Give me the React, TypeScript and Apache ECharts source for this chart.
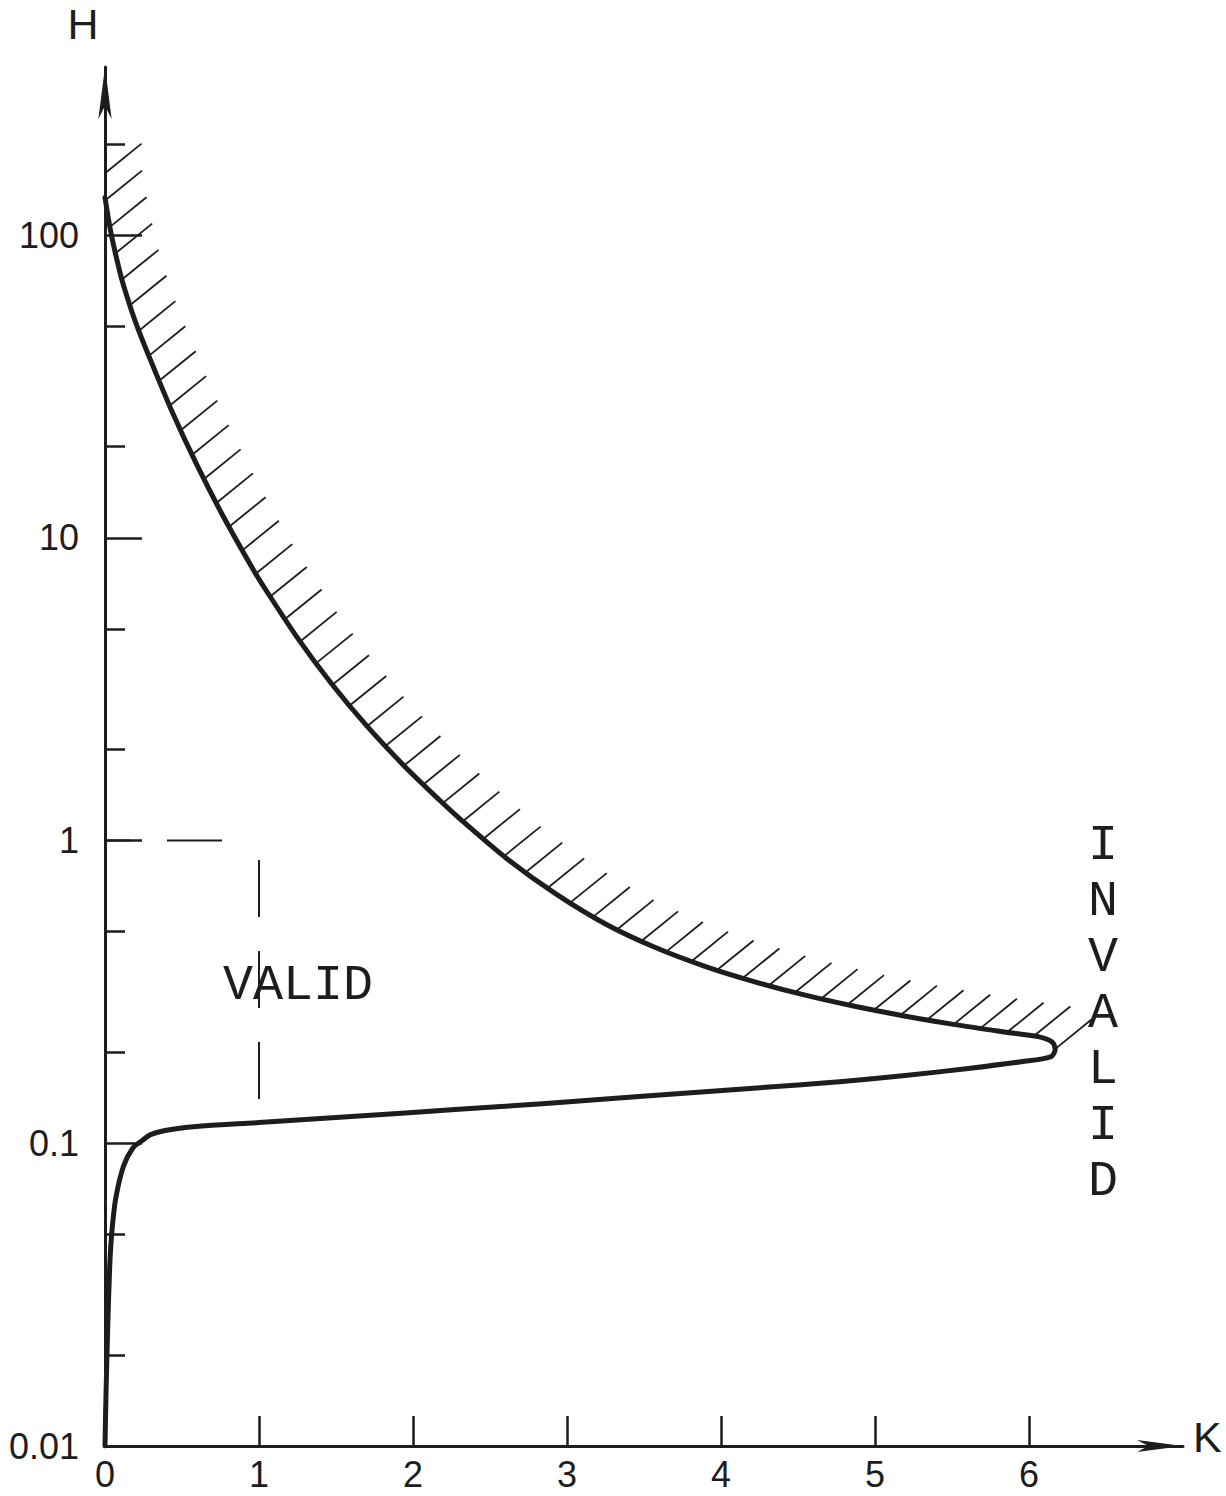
import { useEffect, useRef } from "react";
import * as echarts from "echarts";

// Upper (hatched) branch of the validity boundary: from the H axis down to the nose.
const UPPER_K = [0, 0.04, 0.1, 0.14, 0.2, 0.28, 0.43, 0.6, 0.77, 0.95, 1.02, 1.25, 1.47, 1.7, 1.94, 2.17, 2.29, 2.61, 2.93, 3.25, 3.57, 3.9, 4.22, 4.54, 4.86, 5.19, 5.51, 5.84, 6.06, 6.15, 6.17];
const UPPER_H = [133, 101, 74.3, 63.3, 51.3, 40.4, 26.5, 17.27, 11.71, 8.05, 7.03, 4.67, 3.3, 2.39, 1.77, 1.363, 1.198, 0.871, 0.665, 0.53, 0.444, 0.3835, 0.3415, 0.309, 0.284, 0.2634, 0.247, 0.2332, 0.225, 0.216, 0.204];

// Lower branch: from the nose back down to the origin.
const LOWER_K = [6.14, 5.95, 5.62, 5.18, 4.79, 4.21, 3.49, 2.84, 2.25, 1.65, 1.0, 0.63, 0.43, 0.3, 0.24, 0.18, 0.12, 0.07, 0.045, 0.031, 0.017, 0.006, 0];
const LOWER_H = [0.193, 0.186, 0.177, 0.167, 0.16, 0.152, 0.143, 0.135, 0.129, 0.123, 0.117, 0.114, 0.111, 0.107, 0.102, 0.0963, 0.084, 0.0659, 0.0513, 0.0396, 0.024, 0.0144, 0.01];

// Hatching starts on the H axis a little above the curve's start.
const HATCH_TOP_H = 160;

// Dashed guides to the point K = 1, H = 1.
const GUIDE_V_K = [1, 1];
const GUIDE_V_H = [0.14, 1];
const GUIDE_H_K = [1, 0];
const GUIDE_H_H = [1, 1];

const K_LABELS = [0, 1, 2, 3, 4, 5, 6];
const K_TICKS = [1, 2, 3, 4, 5, 6];
const H_LABELS = [0.01, 0.1, 1, 10, 100];
const H_MAJOR_TICKS = [0.1, 1, 10, 100];
const H_MINOR_TICKS = [0.02, 0.05, 0.2, 0.5, 2, 5, 20, 50, 200];

const K_MIN = 0;
const K_MAX = 7;
const H_MIN = 0.01;
const H_MAX = 359;

const INK = "#1d1d1d";
const SANS = "Liberation Sans, Arial, sans-serif";
const MONO = "Liberation Mono, DejaVu Sans Mono, monospace";

function buildOption(): echarts.EChartsOption {
  const upper = UPPER_K.map((k, i) => [k, UPPER_H[i]]);
  const lower = LOWER_K.map((k, i) => [k, LOWER_H[i]]);
  const guideV = GUIDE_V_K.map((k, i) => [k, GUIDE_V_H[i]]);
  const guideH = GUIDE_H_K.map((k, i) => [k, GUIDE_H_H[i]]);
  const hatchEdge = [[0, HATCH_TOP_H], ...upper];

  const hatchStep = 27;
  const hatchLen = 47;
  const hatchAngle = (39 * Math.PI) / 180;

  return {
    animation: false,
    backgroundColor: "#ffffff",
    grid: { left: 105, right: 43, top: 67, bottom: 50, containLabel: false },
    xAxis: {
      type: "value",
      min: K_MIN,
      max: K_MAX,
      interval: 1,
      name: "K",
      nameLocation: "end",
      nameGap: 10,
      nameTextStyle: {
        fontFamily: SANS,
        fontSize: 43,
        color: INK,
        verticalAlign: "bottom",
        lineHeight: 18,
      },
      axisLine: {
        show: true,
        symbol: ["none", "arrow"],
        symbolSize: [9, 46],
        lineStyle: { color: INK, width: 3 },
      },
      axisTick: {
        show: true,
        inside: true,
        length: 30,
        customValues: K_TICKS,
        lineStyle: { color: INK, width: 2.5 },
      },
      axisLabel: {
        show: true,
        customValues: K_LABELS,
        margin: 10,
        fontFamily: SANS,
        fontSize: 36,
        color: INK,
      },
      splitLine: { show: false },
    },
    yAxis: [
      {
        type: "log",
        logBase: 10,
        min: H_MIN,
        max: H_MAX,
        position: "left",
        name: "H",
        nameLocation: "end",
        nameGap: 22,
        nameTextStyle: { fontFamily: SANS, fontSize: 43, color: INK, padding: [0, 44, 0, 0] },
        axisLine: {
          show: true,
          symbol: ["none", "arrow"],
          symbolSize: [10, 52],
          lineStyle: { color: INK, width: 3 },
        },
        axisTick: {
          show: true,
          inside: true,
          length: 37,
          customValues: H_MAJOR_TICKS,
          lineStyle: { color: INK, width: 2.5 },
        },
        axisLabel: {
          show: true,
          customValues: H_LABELS,
          margin: 26,
          fontFamily: SANS,
          fontSize: 36,
          color: INK,
        },
        splitLine: { show: false },
      },
      {
        // second scale on the same side, only for the 2 and 5 sub-ticks
        type: "log",
        logBase: 10,
        min: H_MIN,
        max: H_MAX,
        position: "left",
        axisLine: { show: false },
        axisTick: {
          show: true,
          inside: true,
          length: 20,
          customValues: H_MINOR_TICKS,
          lineStyle: { color: INK, width: 2.5 },
        },
        axisLabel: { show: false },
        splitLine: { show: false },
      },
    ],
    graphic: [
      {
        type: "text",
        x: 298,
        y: 985,
        style: {
          text: "VALID",
          fontFamily: MONO,
          fontSize: 50,
          fill: INK,
          align: "center",
          verticalAlign: "middle",
        },
      },
      {
        type: "text",
        x: 1103,
        y: 1013,
        style: {
          text: "I\nN\nV\nA\nL\nI\nD",
          fontFamily: MONO,
          fontSize: 50,
          lineHeight: 56,
          fill: INK,
          align: "center",
          verticalAlign: "middle",
        },
      },
    ],
    series: [
      {
        name: "hatching",
        type: "custom",
        coordinateSystem: "cartesian2d",
        xAxisIndex: 0,
        yAxisIndex: 0,
        clip: false,
        silent: true,
        data: [[0, 1]],
        renderItem: (_params: any, api: any) => {
          const pts = hatchEdge.map((p) => api.coord(p));
          const dx = hatchLen * Math.cos(hatchAngle);
          const dy = -hatchLen * Math.sin(hatchAngle);
          const children: any[] = [];
          let walked = 0;
          let next = 0;
          for (let i = 0; i < pts.length - 1; i++) {
            const [x0, y0] = pts[i];
            const [x1, y1] = pts[i + 1];
            const seg = Math.hypot(x1 - x0, y1 - y0);
            if (seg <= 0) continue;
            while (next <= walked + seg) {
              const t = (next - walked) / seg;
              const px = x0 + (x1 - x0) * t;
              const py = y0 + (y1 - y0) * t;
              children.push({
                type: "line",
                shape: { x1: px, y1: py, x2: px + dx, y2: py + dy },
                style: { stroke: INK, lineWidth: 1.8 },
              });
              next += hatchStep;
            }
            walked += seg;
          }
          return { type: "group", children };
        },
      },
      {
        name: "boundary",
        type: "line",
        xAxisIndex: 0,
        yAxisIndex: 0,
        data: [...upper, ...lower],
        smooth: 0.3,
        symbol: "none",
        silent: true,
        lineStyle: { color: INK, width: 5, cap: "round", join: "round" },
        z: 5,
      },
      {
        name: "guide K = 1",
        type: "line",
        xAxisIndex: 0,
        yAxisIndex: 0,
        data: guideV,
        symbol: "none",
        silent: true,
        lineStyle: { color: INK, width: 2, type: [57, 34] },
        z: 3,
      },
      {
        name: "guide H = 1",
        type: "line",
        xAxisIndex: 0,
        yAxisIndex: 0,
        data: guideH,
        symbol: "none",
        silent: true,
        lineStyle: { color: INK, width: 2, type: [55, 37], dashOffset: 55 },
        z: 3,
      },
    ],
  };
}

export default function App() {
  const ref = useRef<HTMLDivElement | null>(null);

  useEffect(() => {
    if (!ref.current) return;
    const chart = echarts.init(ref.current, undefined, { renderer: "svg" });
    chart.setOption(buildOption());
    return () => chart.dispose();
  }, []);

  return (
    <div
      ref={ref}
      style={{ position: "absolute", left: 0, top: 0, width: 1226, height: 1496, background: "#fff" }}
    />
  );
}
